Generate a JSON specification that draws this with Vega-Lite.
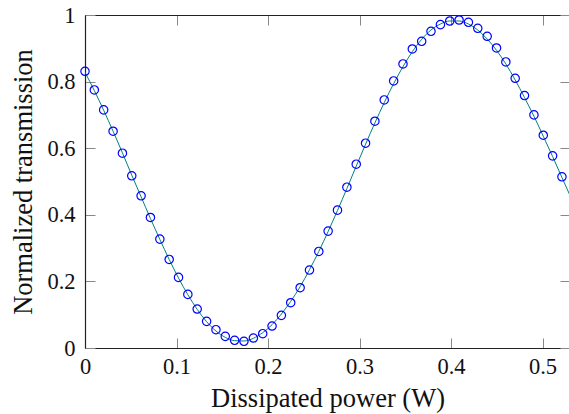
{
  "$schema": "https://vega.github.io/schema/vega-lite/v6.json",
  "autosize": "none",
  "padding": {"left": 85, "top": 15, "right": 0, "bottom": 66},
  "width": 485,
  "height": 333,
  "background": "white",
  "config": {
    "view": {"stroke": null},
    "font": "Liberation Serif",
    "axis": {
      "grid": false,
      "domainColor": "#222",
      "domainWidth": 1.2,
      "tickColor": "#888",
      "tickWidth": 1,
      "tickSize": -10,
      "labelFont": "Liberation Serif",
      "labelFontSize": 22.5,
      "labelColor": "#111",
      "titleFont": "Liberation Serif",
      "titleFontSize": 26.5,
      "titleFontWeight": "normal",
      "titleColor": "#111"
    }
  },
  "datasets": {
    "meas": [
      {"P": 0.0, "T": 0.831}, {"P": 0.0102, "T": 0.775}, {"P": 0.0204, "T": 0.715}, {"P": 0.0307, "T": 0.651},
      {"P": 0.0409, "T": 0.585}, {"P": 0.0511, "T": 0.517}, {"P": 0.0613, "T": 0.457}, {"P": 0.0715, "T": 0.392},
      {"P": 0.0818, "T": 0.327}, {"P": 0.092, "T": 0.266}, {"P": 0.1022, "T": 0.212}, {"P": 0.1124, "T": 0.161},
      {"P": 0.1226, "T": 0.117}, {"P": 0.1329, "T": 0.080}, {"P": 0.1431, "T": 0.055}, {"P": 0.1533, "T": 0.035},
      {"P": 0.1635, "T": 0.023}, {"P": 0.1737, "T": 0.020}, {"P": 0.184, "T": 0.030}, {"P": 0.1942, "T": 0.043},
      {"P": 0.2044, "T": 0.066}, {"P": 0.2146, "T": 0.098}, {"P": 0.2248, "T": 0.136}, {"P": 0.2351, "T": 0.181},
      {"P": 0.2453, "T": 0.234}, {"P": 0.2555, "T": 0.290}, {"P": 0.2657, "T": 0.351}, {"P": 0.2759, "T": 0.414},
      {"P": 0.2862, "T": 0.483}, {"P": 0.2964, "T": 0.552}, {"P": 0.3066, "T": 0.615}, {"P": 0.3168, "T": 0.681},
      {"P": 0.327, "T": 0.745}, {"P": 0.3373, "T": 0.802}, {"P": 0.3475, "T": 0.853}, {"P": 0.3577, "T": 0.898},
      {"P": 0.3679, "T": 0.921}, {"P": 0.3781, "T": 0.951}, {"P": 0.3884, "T": 0.971}, {"P": 0.3986, "T": 0.982},
      {"P": 0.4088, "T": 0.985}, {"P": 0.419, "T": 0.978}, {"P": 0.4292, "T": 0.960}, {"P": 0.4395, "T": 0.936},
      {"P": 0.4497, "T": 0.901}, {"P": 0.4599, "T": 0.859}, {"P": 0.4701, "T": 0.810}, {"P": 0.4803, "T": 0.758},
      {"P": 0.4906, "T": 0.700}, {"P": 0.5008, "T": 0.639}, {"P": 0.511, "T": 0.577}, {"P": 0.5212, "T": 0.514}
    ],
    "fit": [
      {"P": 0.0, "T": 0.828}, {"P": 0.0102, "T": 0.773}, {"P": 0.0204, "T": 0.714}, {"P": 0.0307, "T": 0.651},
      {"P": 0.0409, "T": 0.586}, {"P": 0.0511, "T": 0.519}, {"P": 0.0613, "T": 0.454}, {"P": 0.0715, "T": 0.389},
      {"P": 0.0818, "T": 0.326}, {"P": 0.092, "T": 0.266}, {"P": 0.1022, "T": 0.210}, {"P": 0.1124, "T": 0.160},
      {"P": 0.1226, "T": 0.116}, {"P": 0.1329, "T": 0.079}, {"P": 0.1431, "T": 0.051}, {"P": 0.1533, "T": 0.032},
      {"P": 0.1635, "T": 0.022}, {"P": 0.1737, "T": 0.021}, {"P": 0.184, "T": 0.029}, {"P": 0.1942, "T": 0.046},
      {"P": 0.2044, "T": 0.070}, {"P": 0.2146, "T": 0.102}, {"P": 0.2248, "T": 0.140}, {"P": 0.2351, "T": 0.184},
      {"P": 0.2453, "T": 0.235}, {"P": 0.2555, "T": 0.290}, {"P": 0.2657, "T": 0.350}, {"P": 0.2759, "T": 0.413},
      {"P": 0.2862, "T": 0.479}, {"P": 0.2964, "T": 0.546}, {"P": 0.3066, "T": 0.612}, {"P": 0.3168, "T": 0.676},
      {"P": 0.327, "T": 0.737}, {"P": 0.3373, "T": 0.794}, {"P": 0.3475, "T": 0.845}, {"P": 0.3577, "T": 0.890},
      {"P": 0.3679, "T": 0.927}, {"P": 0.3781, "T": 0.955}, {"P": 0.3884, "T": 0.973}, {"P": 0.3986, "T": 0.982},
      {"P": 0.4088, "T": 0.982}, {"P": 0.419, "T": 0.973}, {"P": 0.4292, "T": 0.955}, {"P": 0.4395, "T": 0.928},
      {"P": 0.4497, "T": 0.894}, {"P": 0.4599, "T": 0.853}, {"P": 0.4701, "T": 0.805}, {"P": 0.4803, "T": 0.752},
      {"P": 0.4906, "T": 0.696}, {"P": 0.5008, "T": 0.636}, {"P": 0.511, "T": 0.575}, {"P": 0.5212, "T": 0.512},
      {"P": 0.53, "T": 0.458}
    ]
  },
  "layer": [
    {
      "data": {"name": "fit"},
      "mark": {"type": "line", "color": "#008080", "strokeWidth": 1, "interpolate": "monotone", "clip": true},
      "encoding": {
        "x": {
          "field": "P", "type": "quantitative",
          "scale": {"domain": [0, 0.53], "nice": false, "zero": false},
          "axis": {"orient": "bottom", "title": "Dissipated power (W)", "values": [0, 0.1, 0.2, 0.3, 0.4, 0.5], "format": ".1~f", "labelFont": "Liberation Serif", "labelPadding": 17, "titlePadding": 8, "labelFlush": false}
        },
        "y": {
          "field": "T", "type": "quantitative",
          "scale": {"domain": [0, 1], "nice": false},
          "axis": {"orient": "left", "title": "Normalized transmission", "values": [0, 0.2, 0.4, 0.6, 0.8, 1], "format": ".1~f", "labelFont": "Liberation Serif", "labelPadding": 20, "titlePadding": 9, "labelFlush": false}
        }
      }
    },
    {
      "data": {"name": "meas"},
      "mark": {"type": "point", "shape": "circle", "filled": false, "color": "#0000ff", "strokeWidth": 1.2, "size": 70, "opacity": 1},
      "encoding": {
        "x": {
          "field": "P", "type": "quantitative",
          "scale": {"domain": [0, 0.53], "nice": false, "zero": false},
          "axis": {"orient": "top", "title": null, "labels": false, "values": [0, 0.1, 0.2, 0.3, 0.4, 0.5]}
        },
        "y": {
          "field": "T", "type": "quantitative",
          "scale": {"domain": [0, 1], "nice": false},
          "axis": {"orient": "right", "title": null, "labels": false, "values": [0, 0.2, 0.4, 0.6, 0.8, 1]}
        }
      }
    }
  ],
  "resolve": {"axis": {"x": "independent", "y": "independent"}}
}
